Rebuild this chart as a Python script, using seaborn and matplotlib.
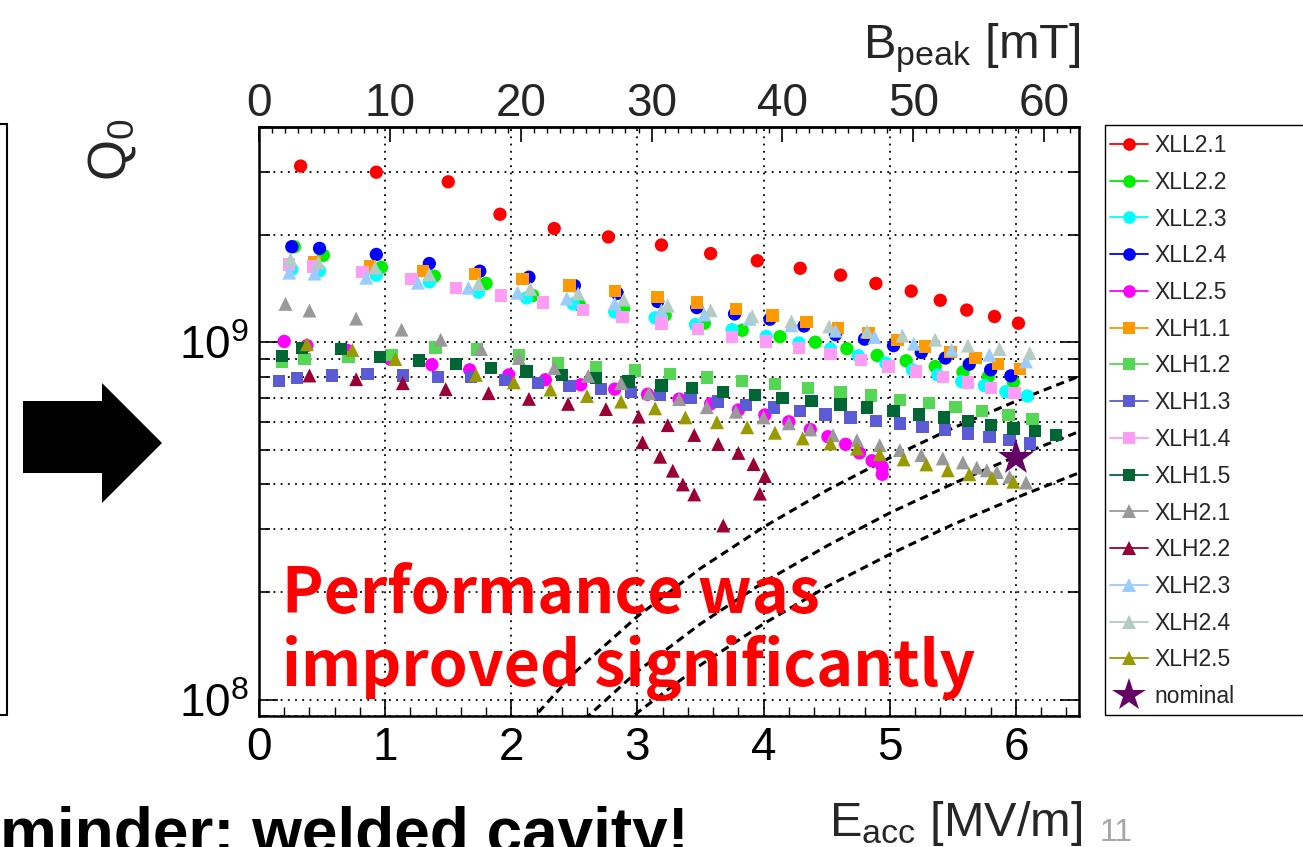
import numpy as np
import pandas as pd
import matplotlib
matplotlib.use("Agg")
import matplotlib.pyplot as plt
import seaborn as sns
from matplotlib.lines import Line2D
from matplotlib.patches import Polygon, Rectangle
from matplotlib.ticker import LogLocator, MultipleLocator, NullFormatter, FixedLocator

# ---------------- data (E_acc in MV/m, Q0 in units of 1e9) ----------------
XLL21_E = [0.33, 0.93, 1.50, 1.91, 2.34, 2.77, 3.19, 3.58, 3.95, 4.29, 4.61, 4.89, 5.17, 5.40, 5.61, 5.83, 6.02]
XLL21_Q = [3.11, 2.99, 2.81, 2.28, 2.08, 1.97, 1.87, 1.77, 1.69, 1.61, 1.54, 1.46, 1.39, 1.31, 1.23, 1.18, 1.13]

XLL22_E = [0.28, 0.51, 0.97, 1.39, 1.80, 2.17, 2.54, 2.89, 3.22, 3.53, 3.83, 4.13, 4.41, 4.66, 4.90, 5.13, 5.36, 5.58, 5.78, 5.98]
XLL22_Q = [1.85, 1.75, 1.62, 1.53, 1.46, 1.35, 1.27, 1.24, 1.19, 1.13, 1.08, 1.036, 1.00, 0.959, 0.918, 0.887, 0.855, 0.825, 0.80, 0.773]

XLL23_E = [0.26, 0.48, 0.93, 1.35, 1.74, 2.12, 2.49, 2.82, 3.14, 3.46, 3.75, 4.02, 4.28, 4.53, 4.75, 4.97, 5.18, 5.38, 5.57, 5.75, 5.92, 6.09]
XLL23_Q = [1.60, 1.585, 1.54, 1.475, 1.38, 1.33, 1.28, 1.215, 1.17, 1.12, 1.084, 1.038, 0.995, 0.957, 0.916, 0.874, 0.837, 0.81, 0.776, 0.756, 0.727, 0.707]

XLL24_E = [0.26, 0.48, 0.93, 1.35, 1.75, 2.14, 2.50, 2.84, 3.16, 3.47, 3.77, 4.05, 4.32, 4.57, 4.80, 5.03, 5.25, 5.44, 5.63, 5.80, 5.96]
XLL24_Q = [1.85, 1.83, 1.76, 1.66, 1.58, 1.52, 1.44, 1.37, 1.30, 1.25, 1.20, 1.16, 1.11, 1.05, 1.02, 0.978, 0.936, 0.903, 0.868, 0.837, 0.805]

XLL25_E = [0.20, 0.38, 0.70, 1.04, 1.37, 1.67, 1.98, 2.27, 2.55, 2.82, 3.08, 3.33, 3.58, 3.80, 4.01, 4.20, 4.37, 4.51, 4.65, 4.76, 4.86, 4.94, 4.94]
XLL25_Q = [1.005, 0.978, 0.948, 0.897, 0.865, 0.837, 0.81, 0.785, 0.76, 0.739, 0.715, 0.693, 0.672, 0.646, 0.626, 0.599, 0.57, 0.544, 0.518, 0.49, 0.466, 0.448, 0.427]

XLH11_E = [0.24, 0.44, 0.88, 1.30, 1.71, 2.09, 2.46, 2.82, 3.16, 3.47, 3.78, 4.07, 4.34, 4.59, 4.83, 5.06, 5.28, 5.48, 5.68, 5.86, 6.03]
XLH11_Q = [1.65, 1.67, 1.63, 1.58, 1.55, 1.505, 1.44, 1.39, 1.34, 1.29, 1.24, 1.187, 1.14, 1.096, 1.061, 1.016, 0.973, 0.939, 0.903, 0.87, 0.841]

XLH12_E = [0.18, 0.36, 0.71, 1.05, 1.40, 1.73, 2.06, 2.37, 2.67, 2.98, 3.26, 3.55, 3.83, 4.09, 4.35, 4.61, 4.85, 5.08, 5.31, 5.52, 5.73, 5.94, 6.13]
XLH12_Q = [0.88, 0.897, 0.909, 0.922, 0.967, 0.953, 0.922, 0.874, 0.852, 0.833, 0.814, 0.796, 0.78, 0.763, 0.744, 0.727, 0.709, 0.689, 0.675, 0.658, 0.643, 0.626, 0.61]

XLH13_E = [0.16, 0.30, 0.58, 0.86, 1.14, 1.42, 1.68, 1.95, 2.21, 2.46, 2.71, 2.95, 3.18, 3.42, 3.64, 3.86, 4.08, 4.29, 4.49, 4.69, 4.89, 5.08, 5.26, 5.44, 5.62, 5.79, 5.95, 6.11]
XLH13_Q = [0.78, 0.793, 0.807, 0.816, 0.807, 0.80, 0.80, 0.785, 0.768, 0.755, 0.739, 0.727, 0.712, 0.697, 0.682, 0.668, 0.656, 0.642, 0.628, 0.616, 0.603, 0.593, 0.58, 0.568, 0.556, 0.544, 0.532, 0.521]

XLH14_E = [0.24, 0.43, 0.82, 1.21, 1.56, 1.92, 2.25, 2.57, 2.88, 3.19, 3.48, 3.75, 4.02, 4.28, 4.53, 4.77, 4.99, 5.21, 5.42, 5.62, 5.80, 5.99]
XLH14_Q = [1.65, 1.63, 1.575, 1.50, 1.42, 1.35, 1.29, 1.228, 1.174, 1.127, 1.089, 1.034, 1.005, 0.963, 0.927, 0.893, 0.855, 0.828, 0.798, 0.771, 0.744, 0.72]

XLH15_E = [0.18, 0.34, 0.65, 0.96, 1.27, 1.56, 1.84, 2.12, 2.40, 2.67, 2.93, 3.19, 3.43, 3.68, 3.93, 4.15, 4.38, 4.61, 4.82, 5.03, 5.23, 5.43, 5.62, 5.80, 5.98, 6.15, 6.32]
XLH15_Q = [0.916, 0.963, 0.957, 0.909, 0.889, 0.868, 0.846, 0.828, 0.81, 0.793, 0.776, 0.756, 0.744, 0.727, 0.712, 0.697, 0.685, 0.67, 0.656, 0.642, 0.628, 0.615, 0.602, 0.586, 0.574, 0.564, 0.55]

XLH21_E = [0.21, 0.40, 0.77, 1.13, 1.44, 1.76, 2.06, 2.34, 2.61, 2.87, 3.09, 3.33, 3.55, 3.78, 4.00, 4.20, 4.37, 4.55, 4.74, 4.92, 5.08, 5.25, 5.42, 5.58, 5.69, 5.77, 5.85, 5.95, 6.08]
XLH21_Q = [1.28, 1.226, 1.164, 1.084, 1.016, 0.957, 0.903, 0.846, 0.805, 0.768, 0.72, 0.693, 0.658, 0.639, 0.616, 0.593, 0.57, 0.549, 0.532, 0.515, 0.499, 0.483, 0.473, 0.461, 0.446, 0.438, 0.433, 0.42, 0.405]

XLH22_E = [0.40, 0.77, 1.14, 1.48, 1.82, 2.14, 2.45, 2.75, 3.01, 3.24, 3.45, 3.64, 3.80, 3.92, 4.01, 3.97, 3.04, 3.18, 3.28, 3.36, 3.45, 3.68]
XLH22_Q = [0.807, 0.788, 0.768, 0.739, 0.72, 0.694, 0.672, 0.65, 0.619, 0.586, 0.55, 0.519, 0.49, 0.456, 0.422, 0.377, 0.525, 0.478, 0.437, 0.40, 0.375, 0.307]

XLH23_E = [0.24, 0.44, 0.85, 1.26, 1.66, 2.05, 2.44, 2.82, 3.19, 3.53, 3.89, 4.22, 4.57, 4.88, 5.19, 5.49, 5.79, 6.08]
XLH23_Q = [1.565, 1.555, 1.515, 1.467, 1.42, 1.375, 1.325, 1.283, 1.228, 1.195, 1.162, 1.115, 1.077, 1.034, 0.99, 0.953, 0.922, 0.883]

XLH24_E = [0.25, 0.47, 0.92, 1.35, 1.74, 2.15, 2.53, 2.89, 3.24, 3.58, 3.91, 4.22, 4.52, 4.82, 5.10, 5.36, 5.62, 5.87, 6.11]
XLH24_Q = [1.705, 1.67, 1.615, 1.547, 1.457, 1.41, 1.368, 1.316, 1.266, 1.228, 1.182, 1.144, 1.107, 1.072, 1.043, 1.016, 0.978, 0.957, 0.932]

XLH25_E = [0.38, 0.74, 1.08, 1.72, 2.02, 2.31, 2.60, 2.87, 3.14, 3.38, 3.63, 3.87, 4.09, 4.31, 4.53, 4.74, 4.92, 5.11, 5.29, 5.46, 5.63, 5.81, 5.98]
XLH25_Q = [0.987, 0.951, 0.897, 0.81, 0.772, 0.737, 0.707, 0.682, 0.653, 0.616, 0.597, 0.578, 0.558, 0.538, 0.521, 0.504, 0.486, 0.47, 0.455, 0.438, 0.427, 0.417, 0.407]

NOMINAL_E = [6.0]
NOMINAL_Q = [0.475]

# constant-power reference curves (dashed)
DASH_E = [2.0, 2.5, 3.0, 3.5, 4.0, 4.5, 5.0, 5.5, 6.0, 6.5]
DASH_A_Q = [0.076, 0.119, 0.171, 0.233, 0.304, 0.385, 0.475, 0.575, 0.684, 0.803]
DASH_B_Q = [0.053, 0.083, 0.120, 0.163, 0.213, 0.269, 0.333, 0.402, 0.479, 0.562]
DASH_C_Q = [0.041, 0.064, 0.092, 0.125, 0.163, 0.207, 0.255, 0.309, 0.367, 0.431]

Q_UNIT = 1e9
BPEAK_PER_EACC = 9.64   # mT per MV/m (top axis)

SERIES_NAMES = ["XLL2.1", "XLL2.2", "XLL2.3", "XLL2.4", "XLL2.5",
                "XLH1.1", "XLH1.2", "XLH1.3", "XLH1.4", "XLH1.5",
                "XLH2.1", "XLH2.2", "XLH2.3", "XLH2.4", "XLH2.5"]
SERIES_E = [XLL21_E, XLL22_E, XLL23_E, XLL24_E, XLL25_E,
            XLH11_E, XLH12_E, XLH13_E, XLH14_E, XLH15_E,
            XLH21_E, XLH22_E, XLH23_E, XLH24_E, XLH25_E]
SERIES_Q = [XLL21_Q, XLL22_Q, XLL23_Q, XLL24_Q, XLL25_Q,
            XLH11_Q, XLH12_Q, XLH13_Q, XLH14_Q, XLH15_Q,
            XLH21_Q, XLH22_Q, XLH23_Q, XLH24_Q, XLH25_Q]
SERIES_COLORS = ["#FF0000", "#00EE00", "#00FFFF", "#0000FF", "#FF00FF",
                 "#FF9900", "#55D655", "#5B5BD6", "#FF9CF5", "#006633",
                 "#999999", "#990033", "#99CCFF", "#B3CCC5", "#999900"]
SERIES_MARKERS = ["o"] * 5 + ["s"] * 5 + ["^"] * 5
NOMINAL_COLOR = "#660066"

rows = []
for name, es, qs in zip(SERIES_NAMES, SERIES_E, SERIES_Q):
    for e, q in zip(es, qs):
        rows.append((name, e, q * Q_UNIT))
df = pd.DataFrame(rows, columns=["series", "Eacc", "Q0"])

# ---------------- style ----------------
sns.set_theme(style="white")
plt.rcParams["font.family"] = ["Liberation Sans", "DejaVu Sans"]
plt.rcParams["mathtext.fontset"] = "custom"
plt.rcParams["mathtext.rm"] = "Liberation Sans"
plt.rcParams["mathtext.it"] = "Liberation Sans:italic"
plt.rcParams["mathtext.bf"] = "Liberation Sans:bold"

W, H = 1303, 847
fig = plt.figure(figsize=(W / 100, H / 100), dpi=100)
fig.patch.set_facecolor("white")


def fx(x):
    return x / W


def fy(y):
    return 1 - y / H


ax = fig.add_axes([fx(259), fy(716), (1079 - 259) / W, (716 - 127) / H])
ax.set_facecolor("white")
ax.set_yscale("log")
ax.set_xlim(0, 6.5)
ax.set_ylim(9e7, 4.0e9)

# grid
grid_kw = dict(color="black", linewidth=1.3, linestyle=(0, (1, 3.0)))
ax.grid(True, which="major", axis="x", **grid_kw)
ax.grid(True, which="both", axis="y", **grid_kw)
ax.set_axisbelow(True)

# dashed constant-power lines
for qs in (DASH_A_Q, DASH_B_Q, DASH_C_Q):
    ax.plot(DASH_E, np.array(qs) * Q_UNIT, color="black", linewidth=2.2,
            linestyle=(0, (2.7, 1.7)), zorder=2)

# markers
MS = {"o": 9.6, "s": 8.9, "^": 10.0}
for name, color, marker in zip(SERIES_NAMES, SERIES_COLORS, SERIES_MARKERS):
    sub = df[df["series"] == name]
    sns.scatterplot(data=sub, x="Eacc", y="Q0", ax=ax, color=color, marker=marker,
                    s=MS[marker] ** 2, linewidth=0, edgecolor="none", legend=False, zorder=3)

sns.scatterplot(x=NOMINAL_E, y=np.array(NOMINAL_Q) * Q_UNIT, ax=ax, color=NOMINAL_COLOR,
                marker="*", s=27 ** 2, linewidth=0, edgecolor="none", legend=False, zorder=4)

ax.set_xlabel("")
ax.set_ylabel("")

# ticks
ax.xaxis.set_major_locator(MultipleLocator(1))
ax.xaxis.set_minor_locator(MultipleLocator(0.2))
ax.yaxis.set_major_locator(LogLocator(base=10))
ax.yaxis.set_minor_locator(LogLocator(base=10, subs=np.arange(2, 10)))
ax.yaxis.set_minor_formatter(NullFormatter())
ax.tick_params(axis="x", which="both", direction="in", top=False, bottom=True,
               labelsize=33, pad=7, color="black", labelcolor="black")
ax.tick_params(axis="x", which="major", length=12, width=1.2)
ax.tick_params(axis="x", which="minor", length=6.5, width=1.0)
ax.tick_params(axis="y", which="both", direction="in", left=True, right=True,
               labelsize=33, pad=7, color="black", labelcolor="black")
ax.tick_params(axis="y", which="major", length=14, width=1.2)
ax.tick_params(axis="y", which="minor", length=8, width=1.2)

for sp in ax.spines.values():
    sp.set_visible(True)
    sp.set_color("black")
    sp.set_linewidth(1.8)

# top axis: B_peak
sec = ax.secondary_xaxis("top", functions=(lambda e: e * BPEAK_PER_EACC,
                                            lambda b: b / BPEAK_PER_EACC))
sec.xaxis.set_major_locator(FixedLocator([0, 10, 20, 30, 40, 50, 60]))
sec.xaxis.set_minor_locator(MultipleLocator(1))
sec.tick_params(axis="x", which="both", direction="in", labelsize=33, pad=1, color="black")
sec.tick_params(axis="x", which="major", length=11, width=1.2)
sec.tick_params(axis="x", which="minor", length=4.5, width=1.0)
sec.spines["top"].set_linewidth(1.8)

# axis labels
fig.text(fx(1082), fy(836), r"$\mathrm{E_{acc}}$ [MV/m]", fontsize=35, ha="right", va="baseline")
fig.text(fx(1080), fy(58), r"$\mathrm{B_{peak}}$ [mT]", fontsize=35, ha="right", va="baseline")
fig.text(fx(112), fy(150), r"$\mathrm{Q_0}$", fontsize=38, rotation=90, ha="center", va="center")

# red annotation
red_font = ["Noto Sans CJK JP", "DejaVu Sans"]
fig.text(fx(282), fy(613), "Performance was", color="#FF0000", fontsize=45,
         fontweight="bold", family=red_font, ha="left", va="baseline")
fig.text(fx(282), fy(686), "improved significantly", color="#FF0000", fontsize=45,
         fontweight="bold", family=red_font, ha="left", va="baseline")

# legend
handles = [Line2D([0], [0], color=c, marker=m, markersize=MS[m] * 0.95, linewidth=1.3,
                  markeredgewidth=0)
           for c, m in zip(SERIES_COLORS, SERIES_MARKERS)]
handles.append(Line2D([0], [0], color=NOMINAL_COLOR, marker="*", markersize=25,
                      linestyle="none", markeredgewidth=0))
labels = SERIES_NAMES + ["nominal"]
leg = fig.legend(handles, labels, loc="upper left", bbox_to_anchor=(fx(1110), fy(134)),
                 bbox_transform=fig.transFigure, frameon=False, fontsize=16.5,
                 labelspacing=0.60, handlelength=1.65, handletextpad=0.3,
                 borderpad=0, borderaxespad=0)
fig.add_artist(Rectangle((fx(1105), fy(715)), fx(1320) - fx(1105), fy(125) - fy(715),
                         transform=fig.transFigure, fill=False, edgecolor="black", linewidth=1.0))

# slide context: previous box edge, big arrow, bottom text, page number
fig.add_artist(Rectangle((fx(-40), fy(715)), fx(7) - fx(-40), fy(124) - fy(715),
                         transform=fig.transFigure, fill=False, edgecolor="black", linewidth=1.5))
arrow_px = [(23, 401), (102, 401), (102, 383), (162, 443), (102, 503), (102, 473), (23, 473)]
fig.add_artist(Polygon([(fx(x), fy(y)) for x, y in arrow_px], closed=True,
                       transform=fig.transFigure, facecolor="black", edgecolor="none"))
fig.text(fx(0), fy(853), "minder: welded cavity!", fontsize=46, fontweight="bold",
         ha="left", va="baseline", color="black")
fig.text(fx(1100), fy(841), "11", fontsize=23, color="#A6A6A6", ha="left", va="baseline")

fig.savefig("out.png", dpi=100, facecolor="white")
